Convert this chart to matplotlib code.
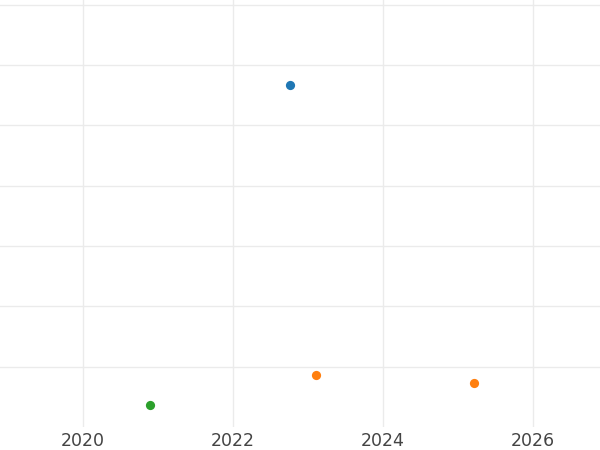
import numpy as np
import matplotlib.pyplot as plt

# series (x in years, y in arbitrary units)
blue_x = [2022.76]
blue_y = [5.67]
orange_x = [2023.11, 2025.21]
orange_y = [0.86, 0.73]
green_x = [2020.89]
green_y = [0.365]

x_ticks = [2020, 2022, 2024, 2026]
y_ticks = [1, 2, 3, 4, 5, 6, 7]

fig = plt.figure(figsize=(6, 4.5), dpi=100)
ax = fig.add_axes([0, 1 - 427 / 450, 1, 427 / 450])

ax.scatter(blue_x, blue_y, s=44, color="#1f77b4", zorder=3, linewidths=0)
ax.scatter(orange_x, orange_y, s=44, color="#ff7f0e", zorder=3, linewidths=0)
ax.scatter(green_x, green_y, s=44, color="#2ca02c", zorder=3, linewidths=0)

ax.set_xlim(2018.893, 2026.893)
ax.set_ylim(-0.003, 7.08)
ax.set_xticks(x_ticks)
ax.set_yticks(y_ticks)
ax.set_yticklabels([])

ax.grid(True, color="#ebebeb", linewidth=1.0)
ax.set_axisbelow(True)
for s in ax.spines.values():
    s.set_visible(False)
ax.tick_params(axis="both", length=0)
ax.tick_params(axis="x", labelsize=12.5, labelcolor="#444444", pad=3.5)

fig.savefig("out.png")
